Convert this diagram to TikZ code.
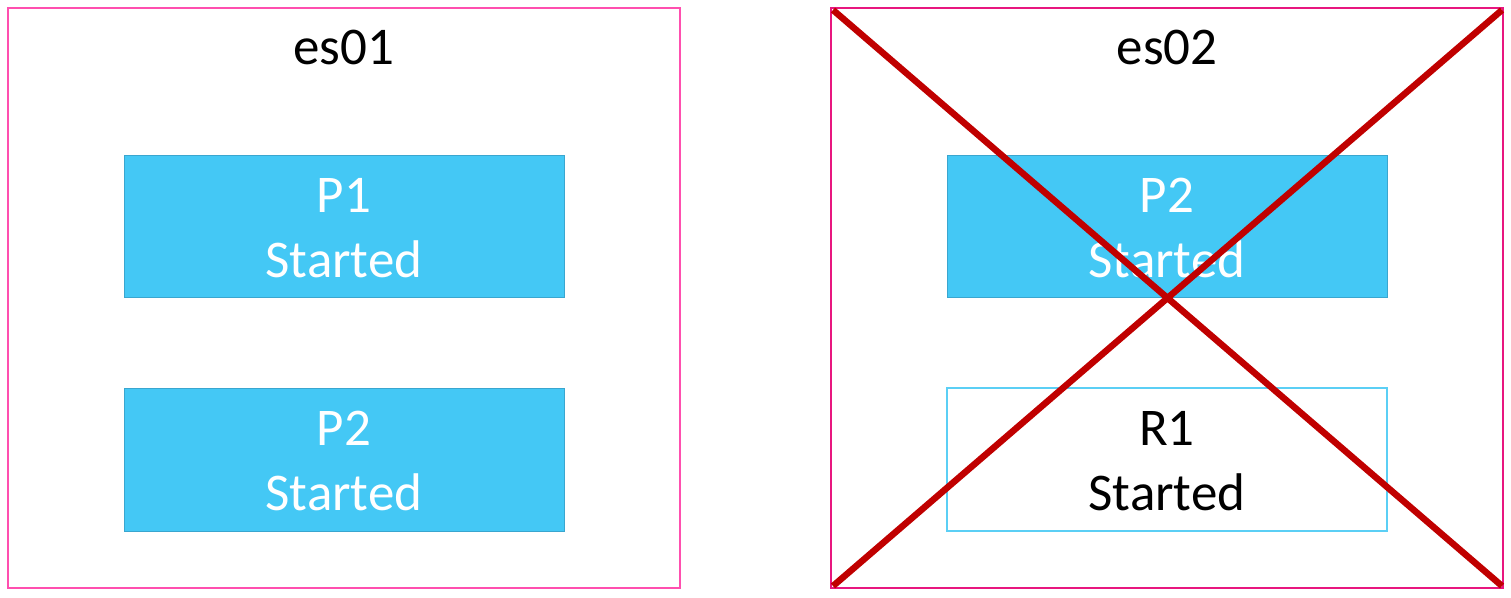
\documentclass[tikz,border=0pt]{standalone}
\usepackage{fontspec}
\setmainfont{Carlito}
\definecolor{framepink}{HTML}{FF4FAF}
\definecolor{framemag}{HTML}{E8167F}
\definecolor{pfill}{HTML}{44C8F5}
\definecolor{pline}{HTML}{3AA6CF}
\definecolor{rline}{HTML}{5BCFF5}
\definecolor{crossred}{HTML}{C00000}
\begin{document}
\begin{tikzpicture}[x=1pt,y=-1pt,
  frame/.style={draw=framepink,line width=1.4pt},
  pbox/.style={fill=pfill,draw=pline,line width=1pt},
  rbox/.style={fill=white,draw=rline,line width=1.2pt},
  btxt/.style={font=\fontsize{53}{65}\selectfont,align=center,text=white},
  ktxt/.style={font=\fontsize{53}{65}\selectfont,align=center,text=black},
  ttxt/.style={font=\fontsize{53}{60}\selectfont,text=black,anchor=base},
  cross/.style={draw=crossred,line width=6.5pt}]
\useasboundingbox (0,0) rectangle (1511,597);
\fill[white] (0,0) rectangle (1511,597);
% left frame
\draw[frame] (8,8) rectangle (680,588);
\node[ttxt] (t1) at (344,64) {es01};
\draw[pbox] (124,155) rectangle (564,297);
\node[btxt] (p1) at (344,228) {P1\\Started};
\draw[pbox] (124,388) rectangle (564,531);
\node[btxt] (p2) at (344,461) {P2\\Started};
% right frame
\draw[frame,draw=framemag] (831,8) rectangle (1503,588);
\node[ttxt] (t2) at (1167,64) {es02};
\draw[pbox] (947,155) rectangle (1387,297);
\node[btxt] (p3) at (1167,228) {P2\\Started};
\draw[rbox] (947,388) rectangle (1387,531);
\node[ktxt] (r1) at (1167,461) {R1\\Started};
% cross
\coordinate (c1) at (833,10);
\coordinate (c2) at (1502,586);
\coordinate (c3) at (833,586);
\coordinate (c4) at (1502,10);
\draw[cross] (c1) -- (c2);
\draw[cross] (c3) -- (c4);
\end{tikzpicture}
\end{document}
